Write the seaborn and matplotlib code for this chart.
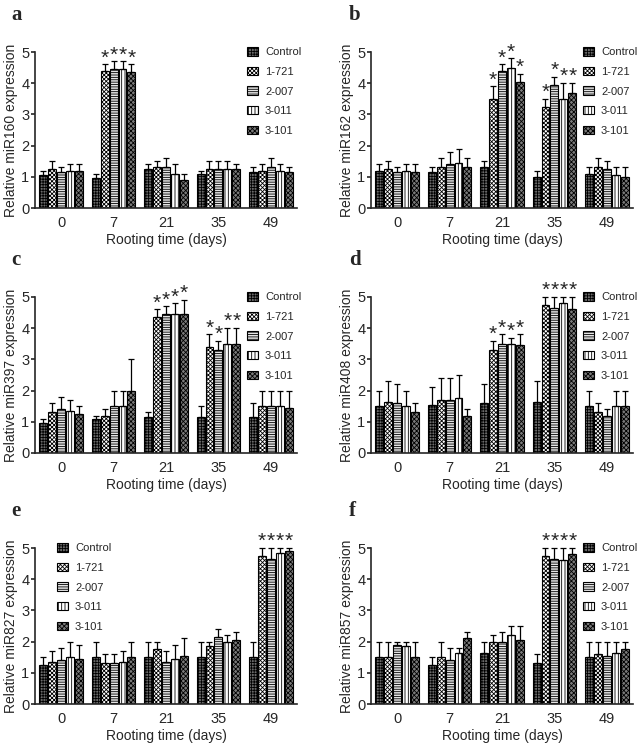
import matplotlib
matplotlib.use('Agg')
import matplotlib.pyplot as plt
import seaborn as sns
import pandas as pd

days = ['0', '7', '21', '35', '49']
lines = ['Control', '1-721', '2-007', '3-011', '3-101']

# rows = lines (Control, 1-721, 2-007, 3-011, 3-101), columns = days
mir160 = [[1.05, 0.95, 1.25, 1.10, 1.15],
          [1.25, 4.40, 1.30, 1.25, 1.20],
          [1.15, 4.45, 1.30, 1.25, 1.30],
          [1.20, 4.45, 1.10, 1.25, 1.20],
          [1.20, 4.35, 0.90, 1.25, 1.15]]
mir160_err = [[0.15, 0.15, 0.15, 0.10, 0.15],
              [0.25, 0.20, 0.20, 0.25, 0.20],
              [0.15, 0.25, 0.30, 0.25, 0.30],
              [0.20, 0.25, 0.30, 0.25, 0.20],
              [0.20, 0.25, 0.20, 0.15, 0.15]]
mir160_star = ['7']

mir162 = [[1.20, 1.15, 1.30, 1.00, 1.10],
          [1.25, 1.30, 3.50, 3.25, 1.30],
          [1.15, 1.40, 4.40, 3.95, 1.25],
          [1.20, 1.45, 4.50, 3.50, 1.05],
          [1.15, 1.30, 4.05, 3.70, 1.00]]
mir162_err = [[0.20, 0.15, 0.20, 0.20, 0.20],
              [0.25, 0.30, 0.40, 0.25, 0.30],
              [0.15, 0.40, 0.20, 0.25, 0.25],
              [0.20, 0.45, 0.30, 0.50, 0.25],
              [0.25, 0.30, 0.25, 0.30, 0.30]]
mir162_star = ['21', '35']

mir397 = [[0.95, 1.10, 1.15, 1.15, 1.15],
          [1.30, 1.20, 4.35, 3.40, 1.50],
          [1.40, 1.50, 4.45, 3.30, 1.50],
          [1.35, 1.50, 4.45, 3.50, 1.50],
          [1.25, 2.00, 4.45, 3.50, 1.45]]
mir397_err = [[0.15, 0.10, 0.15, 0.35, 0.45],
              [0.30, 0.20, 0.25, 0.40, 0.50],
              [0.40, 0.50, 0.25, 0.30, 0.50],
              [0.35, 0.50, 0.35, 0.50, 0.50],
              [0.25, 1.00, 0.45, 0.50, 0.55]]
mir397_star = ['21', '35']

mir408 = [[1.50, 1.55, 1.60, 1.65, 1.50],
          [1.65, 1.70, 3.30, 4.75, 1.30],
          [1.60, 1.70, 3.50, 4.65, 1.20],
          [1.50, 1.75, 3.50, 4.80, 1.50],
          [1.30, 1.20, 3.45, 4.60, 1.50]]
mir408_err = [[0.50, 0.55, 0.60, 0.65, 0.50],
              [0.65, 0.70, 0.30, 0.25, 0.30],
              [0.60, 0.70, 0.30, 0.35, 0.20],
              [0.50, 0.75, 0.20, 0.20, 0.50],
              [0.30, 0.20, 0.35, 0.40, 0.50]]
mir408_star = ['21', '35']

mir827 = [[1.25, 1.50, 1.50, 1.50, 1.50],
          [1.35, 1.30, 1.75, 1.85, 4.75],
          [1.40, 1.30, 1.35, 2.15, 4.65],
          [1.50, 1.35, 1.45, 2.00, 4.85],
          [1.45, 1.50, 1.55, 2.05, 4.90]]
mir827_err = [[0.25, 0.50, 0.50, 0.50, 0.50],
              [0.35, 0.30, 0.25, 0.15, 0.25],
              [0.40, 0.30, 0.35, 0.25, 0.35],
              [0.50, 0.35, 0.45, 0.20, 0.15],
              [0.45, 0.50, 0.55, 0.25, 0.10]]
mir827_star = ['49']

mir857 = [[1.50, 1.25, 1.65, 1.30, 1.50],
          [1.50, 1.50, 2.00, 4.75, 1.60],
          [1.90, 1.40, 2.00, 4.65, 1.55],
          [1.85, 1.65, 2.20, 4.60, 1.65],
          [1.50, 2.10, 2.05, 4.80, 1.75]]
mir857_err = [[0.50, 0.25, 0.35, 0.30, 0.50],
              [0.50, 0.50, 0.20, 0.25, 0.40],
              [0.10, 0.40, 0.30, 0.35, 0.45],
              [0.15, 0.15, 0.30, 0.40, 0.35],
              [0.50, 0.20, 0.45, 0.20, 0.25]]
mir857_star = ['35']

panels = [('a', 'miR160', mir160, mir160_err, mir160_star, 'right'),
          ('b', 'miR162', mir162, mir162_err, mir162_star, 'right'),
          ('c', 'miR397', mir397, mir397_err, mir397_star, 'right'),
          ('d', 'miR408', mir408, mir408_err, mir408_star, 'right'),
          ('e', 'miR827', mir827, mir827_err, mir827_star, 'left'),
          ('f', 'miR857', mir857, mir857_err, mir857_star, 'right')]

faces = ['#6a6a6a', 'white', '#e4e4e4', 'white', '#7a7a7a']
hatches = ['++++++', 'xxxxxxxx', '-------', '|||||', 'xxxxxxx']

sns.set_style('ticks')
plt.rcParams['font.family'] = ['Liberation Sans', 'DejaVu Sans']
plt.rcParams['hatch.linewidth'] = 0.6

W, H = 638, 748
fig = plt.figure(figsize=(W / 100, H / 100), dpi=100)

# axes boxes in pixels: left, top
lefts = [35, 371]
tops = [52, 297, 548]
ax_w, ax_h = 262, 156

for k, (letter, mir, vals, errs, stars, leg_side) in enumerate(panels):
    col, row = k % 2, k // 2
    left, top = lefts[col], tops[row]
    ax = fig.add_axes([left / W, 1 - (top + ax_h) / H, ax_w / W, ax_h / H])

    rows = [(d, ln, vals[i][j]) for i, ln in enumerate(lines) for j, d in enumerate(days)]
    df = pd.DataFrame(rows, columns=['day', 'line', 'value'])
    sns.barplot(data=df, x='day', y='value', hue='line', order=days, hue_order=lines,
                palette=faces, saturation=1, width=0.85, gap=0.12, errorbar=None,
                edgecolor='black', linewidth=0.8, legend=False, ax=ax)

    bars = list(ax.containers)
    for i, cont in enumerate(bars):
        cont.set_label(lines[i])
        patches = sorted(cont.patches, key=lambda p: p.get_x())
        for j, bar in enumerate(patches):
            bar.set_hatch(hatches[i])
            cx = bar.get_x() + bar.get_width() / 2
            h = bar.get_height()
            ax.errorbar(cx, h, yerr=[[0], [errs[i][j]]], color='black', lw=0.9,
                        capsize=2.2, capthick=0.9, clip_on=False)
            if i > 0 and days[j] in stars:
                ax.text(cx, h + errs[i][j] - 0.1, '*', ha='center', va='bottom',
                        fontsize=15, clip_on=False)

    ax.set_xlim(-0.5, 4.5)
    ax.set_ylim(0, 5)
    ax.set_yticks(range(6))
    ax.set_xlabel('Rooting time (days)', fontsize=10, labelpad=2)
    ax.set_ylabel(f'Relative {mir} expression', fontsize=10, labelpad=2)
    ax.tick_params(axis='y', labelsize=10.5, width=1.2, length=3, pad=1)
    ax.tick_params(axis='x', labelsize=10.5, length=0, pad=6)
    for s in ['left', 'bottom']:
        ax.spines[s].set_linewidth(1.2)
    sns.despine(ax=ax)

    lx = 0.81 if leg_side == 'right' else 0.085
    ax.legend(handles=bars, labels=lines, loc='upper left', bbox_to_anchor=(lx, 1.03),
              frameon=False, fontsize=8, handlelength=1.0, handleheight=0.8,
              handletextpad=0.6, labelspacing=0.85, borderpad=0, borderaxespad=0)

    fig.text((11 + 338 * col) / W, 1 - (top - 32) / H, letter, fontsize=15,
             fontweight='bold', family='Liberation Serif', va='baseline')

fig.savefig('out.png', dpi=100)
